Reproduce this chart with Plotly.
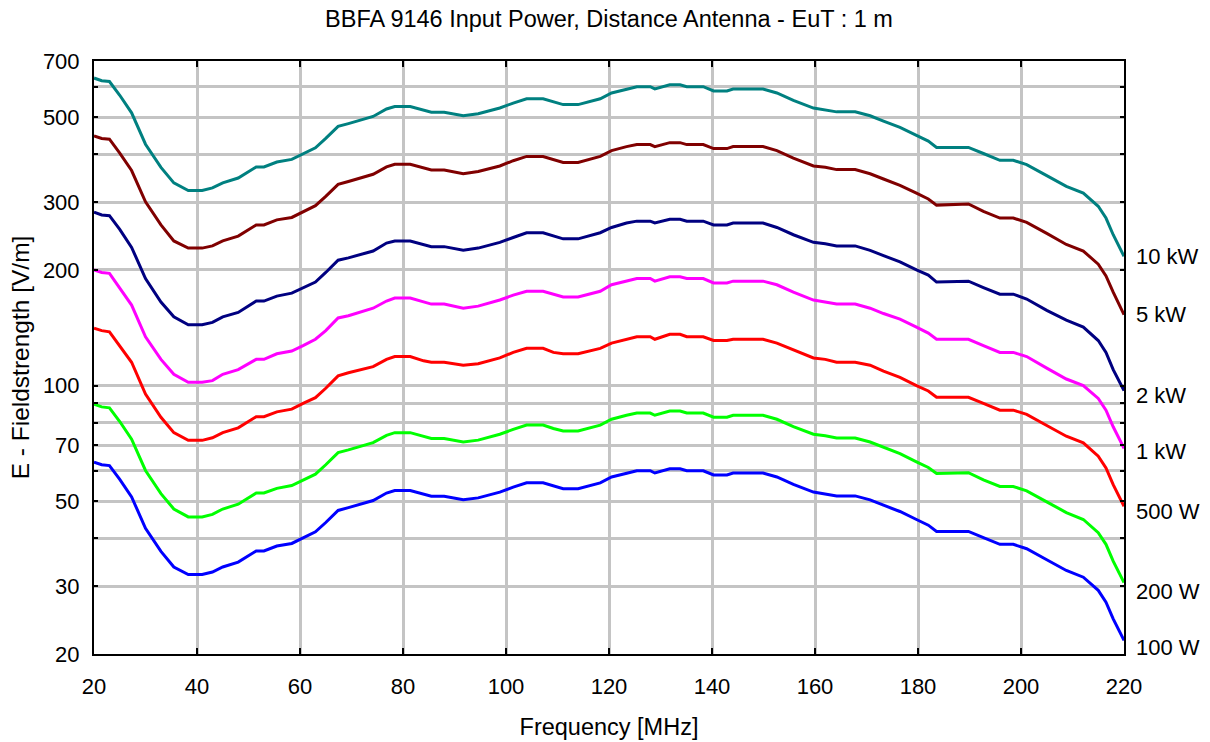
import plotly.graph_objects as go
import math

freq_mhz = [20, 21.5, 23, 25, 27.3, 30, 33, 35.5, 38.3, 41, 43, 45, 48, 51.5, 53, 55.5, 58.4, 60.6, 63, 65,
            67.4, 69.4, 72, 74.2, 76.8, 78.4, 81.4, 84, 85.5, 88, 91.7, 94.6, 98.8, 101.4, 104, 107.2, 109.2,
            111.1, 114, 118.3, 120.5, 123.4, 125.4, 128, 128.9, 131.8, 133.8, 135.1, 138.3, 140.3, 142.9,
            144.1, 149.9, 152.6, 155.8, 159.7, 162, 164.2, 167.8, 170.7, 173.3, 176.5, 179.7, 182, 183.6,
            189.8, 192.7, 195.9, 198.5, 201.1, 205, 208.8, 212.1, 215, 216.5, 217.9, 220]

e_10kw = [632, 622, 619, 570, 513, 425, 370, 337, 322, 322, 327, 337, 347, 371, 371, 382, 388, 402, 416, 440,
          473, 481, 492, 502, 525, 533, 533, 521, 515, 515, 504, 510, 528, 544, 558, 558, 547, 539, 539, 558,
          578, 592, 600, 600, 592, 607, 607, 600, 600, 585, 585, 592, 592, 578, 553, 528, 523, 516, 516, 504,
          488, 470, 448, 433, 417, 417, 402, 386, 386, 376, 352, 330, 317, 293, 273, 247, 217]

e_5kw = [447, 440, 438, 403, 363, 301, 262, 238, 228, 228, 231, 238, 245, 262, 262, 270, 274, 284, 294, 311,
         334, 340, 348, 355, 371, 377, 377, 368, 364, 364, 356, 361, 373, 385, 395, 395, 387, 381, 381, 395,
         409, 419, 424, 424, 419, 429, 429, 424, 424, 414, 414, 419, 419, 409, 391, 373, 370, 365, 365, 356,
         345, 332, 317, 306, 295, 297, 284, 273, 273, 266, 249, 233, 224, 207, 193, 175, 153]

e_2kw = [283, 278, 277, 255, 229, 190, 165, 151, 144, 144, 146, 151, 155, 166, 166, 171, 174, 180, 186, 197,
         212, 215, 220, 224, 235, 238, 238, 233, 230, 230, 225, 228, 236, 243, 250, 250, 245, 241, 241, 250,
         258, 265, 268, 268, 265, 271, 271, 268, 268, 262, 262, 265, 265, 258, 247, 236, 234, 231, 231, 225,
         218, 210, 200, 194, 186, 187, 180, 173, 173, 168, 157, 148, 142, 131, 122, 110, 97]

e_1kw = [200, 197, 196, 180, 162, 134, 117, 107, 102, 102, 103, 107, 110, 117, 117, 121, 123, 127, 132, 139,
         150, 152, 156, 159, 166, 169, 169, 165, 163, 163, 159, 161, 167, 172, 176, 176, 173, 170, 170, 176,
         183, 187, 190, 190, 187, 192, 192, 190, 190, 185, 185, 187, 187, 183, 175, 167, 165, 163, 163, 159,
         154, 149, 142, 137, 132, 132, 127, 122, 122, 119, 111, 104, 100, 92.6, 86.3, 78.1, 68.6]

e_500w = [141, 139, 138, 127, 115, 95.0, 82.7, 75.4, 72.0, 72.0, 73.1, 75.4, 77.6, 83.0, 83.0, 85.4, 86.8, 89.9,
          93.0, 98.4, 106, 108, 110, 112, 117, 119, 119, 116, 115, 115, 113, 114, 118, 122, 125, 125, 122, 121,
          121, 125, 129, 132, 134, 134, 132, 136, 136, 134, 134, 131, 131, 132, 132, 129, 124, 118, 117, 115,
          115, 113, 109, 105, 100, 96.8, 93.2, 93.2, 89.9, 86.3, 86.3, 84.1, 78.7, 73.8, 70.9, 65.5, 61.0,
          55.2, 48.5]

e_200w = [89.4, 88.0, 87.5, 80.6, 72.5, 60.1, 52.3, 47.7, 45.5, 45.5, 46.2, 47.7, 49.1, 52.5, 52.5, 54.0, 54.9,
          56.8, 58.8, 62.2, 66.9, 68.0, 69.6, 71.0, 74.2, 75.4, 75.4, 73.7, 72.8, 72.8, 71.3, 72.1, 74.7, 76.9,
          78.9, 78.9, 77.3, 76.2, 76.2, 78.9, 81.7, 83.7, 84.8, 84.8, 83.7, 85.8, 85.8, 84.8, 84.8, 82.7, 82.7,
          83.7, 83.7, 81.7, 78.2, 74.7, 74.0, 73.0, 73.0, 71.3, 69.0, 66.5, 63.3, 61.2, 59.0, 59.3, 56.8, 54.6,
          54.6, 53.2, 49.8, 46.7, 44.8, 41.4, 38.6, 34.9, 30.7]

e_100w = [63.2, 62.2, 61.9, 57.0, 51.3, 42.5, 37.0, 33.7, 32.2, 32.2, 32.7, 33.7, 34.7, 37.1, 37.1, 38.2, 38.8,
          40.2, 41.6, 44.0, 47.3, 48.1, 49.2, 50.2, 52.5, 53.3, 53.3, 52.1, 51.5, 51.5, 50.4, 51.0, 52.8, 54.4,
          55.8, 55.8, 54.7, 53.9, 53.9, 55.8, 57.8, 59.2, 60.0, 60.0, 59.2, 60.7, 60.7, 60.0, 60.0, 58.5, 58.5,
          59.2, 59.2, 57.8, 55.3, 52.8, 52.3, 51.6, 51.6, 50.4, 48.8, 47.0, 44.8, 43.3, 41.7, 41.7, 40.2, 38.6,
          38.6, 37.6, 35.2, 33.0, 31.7, 29.3, 27.3, 24.7, 21.7]

series_names = ["10 kW", "5 kW", "2 kW", "1 kW", "500 W", "200 W", "100 W"]
series_values = [e_10kw, e_5kw, e_2kw, e_1kw, e_500w, e_200w, e_100w]
series_colors = ["#008080", "#800000", "#000080", "#FF00FF", "#FF0000", "#00FF00", "#0000FF"]
label_yshift = [0, 0, -5, -3, -5, -9, -7]

x_tick_vals = [20, 40, 60, 80, 100, 120, 140, 160, 180, 200, 220]
y_tick_vals = [20, 30, 40, 50, 60, 70, 80, 90, 100, 200, 300, 400, 500, 600, 700]
y_tick_text = ["20", "30", "", "50", "", "70", "", "", "100", "200", "300", "", "500", "", "700"]

FONT = "Liberation Sans, Arial, sans-serif"

fig = go.Figure()
for name, vals, col, ys in zip(series_names, series_values, series_colors, label_yshift):
    fig.add_trace(go.Scatter(x=freq_mhz, y=vals, mode="lines", name=name,
                             line=dict(color=col, width=3), showlegend=False))
    fig.add_annotation(x=1, xref="paper", y=math.log10(vals[-1]), yref="y",
                       text=name, showarrow=False, xanchor="left", yanchor="middle",
                       xshift=10, yshift=ys, font=dict(family=FONT, size=22, color="black"))

fig.update_layout(
    width=1210, height=742,
    margin=dict(l=94, r=86, t=61, b=88),
    paper_bgcolor="white", plot_bgcolor="white",
    font=dict(family=FONT, size=22, color="black"),
    title=dict(text="BBFA 9146 Input Power, Distance Antenna - EuT : 1 m",
               x=0.5, xref="paper", xanchor="center",
               y=1 - 19 / 742, yref="container", yanchor="middle",
               font=dict(family=FONT, size=23.5, color="black")),
)

fig.update_xaxes(
    range=[20, 220], tickvals=x_tick_vals, automargin=False,
    ticks="inside", ticklen=6, tickwidth=2, tickcolor="black",
    showline=True, linecolor="black", linewidth=2, mirror="ticks",
    showgrid=True, gridcolor="#C4C4C4", gridwidth=2.5, zeroline=False,
    ticklabelstandoff=12,
    title=dict(text="Frequency [MHz]", standoff=20, font=dict(family=FONT, size=23.5)),
    tickfont=dict(family=FONT, size=22),
)
fig.update_yaxes(
    type="log", range=[math.log10(20), math.log10(700)], automargin=False,
    tickvals=y_tick_vals, ticktext=y_tick_text,
    ticks="inside", ticklen=4, tickwidth=2, tickcolor="black",
    showline=True, linecolor="black", linewidth=2, mirror="ticks",
    showgrid=True, gridcolor="#C4C4C4", gridwidth=2.5, zeroline=False,
    ticklabelstandoff=8,
    title=dict(text="E - Fieldstrength [V/m]", standoff=6, font=dict(family=FONT, size=24.5)),
    tickfont=dict(family=FONT, size=22),
)

fig.write_html("out.html", config={"displayModeBar": False},
               post_script="document.body.style.margin='0px';document.body.style.overflow='hidden';")
